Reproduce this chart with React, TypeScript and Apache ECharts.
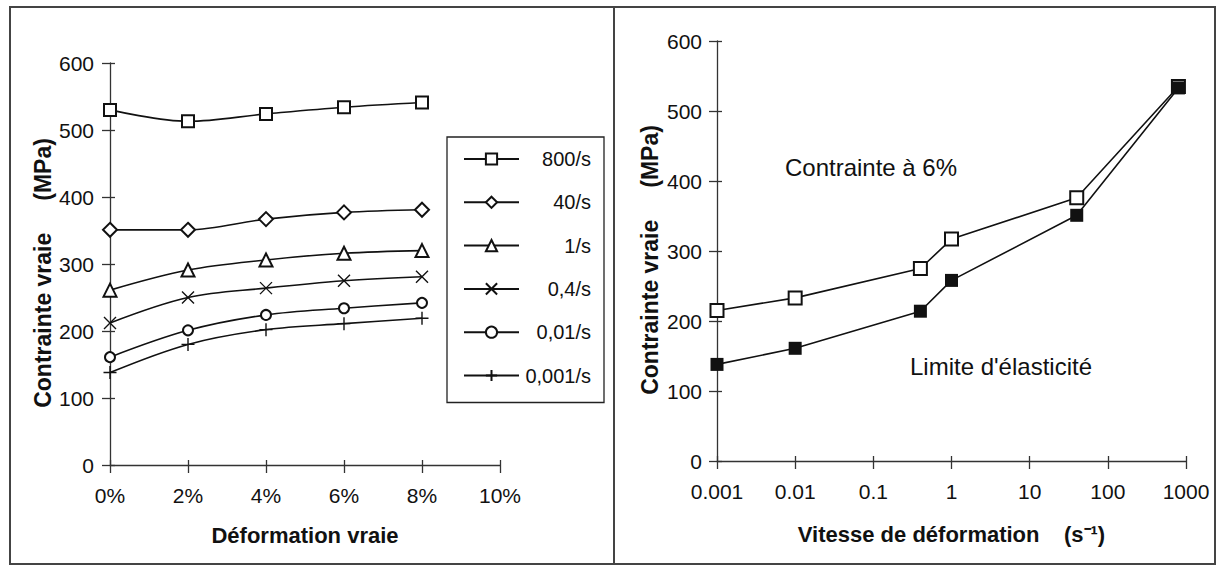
import React, { useEffect, useRef } from "react";
import * as echarts from "echarts";

// ---- Left chart data (true stress vs true strain) ----
const strainPct = [0, 2, 4, 6, 8];
const rateNames = ["800/s", "40/s", "1/s", "0,4/s", "0,01/s", "0,001/s"];
const s800 = [530, 513, 524, 534, 541];
const s40 = [351, 351, 367, 377, 381];
const s1 = [261, 291, 306, 316, 320];
const s04 = [212, 250, 264, 275, 281];
const s001 = [161, 201, 224, 234, 242];
const s0001 = [138, 180, 202, 211, 219];

// ---- Right chart data (stress vs strain rate) ----
const rates = [0.001, 0.01, 0.4, 1, 40, 800];
const stressAt6 = [215, 233, 275, 317, 376, 535];
const yieldStress = [138, 161, 214, 258, 351, 533];

const leftYTicks = { min: 0, max: 600, interval: 100 };
const leftXTicks = { min: 0, max: 10, interval: 2 };

const FONT = "'Liberation Sans', Arial, sans-serif";
const INK = "#111";

const X_SYM = "path://M0,0L10,10M10,0L0,10";
const PLUS_SYM = "path://M5,0L5,10M0,5L10,5";

export default function App() {
  const ref = useRef<HTMLDivElement>(null);

  useEffect(() => {
    if (!ref.current) return;
    const chart = echarts.init(ref.current, null, { renderer: "svg" });

    const leftSeriesDefs = [
      { name: rateNames[0], data: s800, symbol: "emptyRect", size: 12 },
      { name: rateNames[1], data: s40, symbol: "emptyDiamond", size: 14 },
      { name: rateNames[2], data: s1, symbol: "emptyTriangle", size: 13 },
      { name: rateNames[3], data: s04, symbol: X_SYM, size: 12 },
      { name: rateNames[4], data: s001, symbol: "emptyCircle", size: 10 },
      { name: rateNames[5], data: s0001, symbol: PLUS_SYM, size: 13 },
    ];

    const leftSeries = leftSeriesDefs.map((d) => ({
      type: "line",
      name: d.name,
      xAxisIndex: 0,
      yAxisIndex: 0,
      smooth: 0.35,
      symbol: d.symbol,
      symbolSize: d.size,
      data: strainPct.map((x, i) => [x, d.data[i]]),
      lineStyle: { color: INK, width: 1.6 },
      itemStyle: { color: INK, borderColor: INK, borderWidth: 1.4 },
      emphasis: { disabled: true },
    }));

    const rightSeries = [
      {
        type: "line",
        name: "Contrainte à 6%",
        xAxisIndex: 2,
        yAxisIndex: 2,
        symbol: "emptyRect",
        symbolSize: 13,
        data: rates.map((r, i) => [r, stressAt6[i]]),
        lineStyle: { color: INK, width: 1.6 },
        itemStyle: { color: INK, borderColor: INK, borderWidth: 1.4 },
        emphasis: { disabled: true },
      },
      {
        type: "line",
        name: "Limite d'élasticité",
        xAxisIndex: 2,
        yAxisIndex: 2,
        symbol: "rect",
        symbolSize: 13,
        data: rates.map((r, i) => [r, yieldStress[i]]),
        lineStyle: { color: INK, width: 1.6 },
        itemStyle: { color: INK },
        emphasis: { disabled: true },
      },
    ];

    const axisLine = { show: true, lineStyle: { color: "#333", width: 1.3 } };
    const tickOut = { show: true, length: 8, lineStyle: { color: "#333", width: 1.3 } };
    const tickIn = { show: true, inside: true, length: 5, lineStyle: { color: "#333", width: 1.3 } };
    const labelStyle = { color: INK, fontSize: 21, fontFamily: FONT };
    const nameStyle = { color: INK, fontSize: 22, fontWeight: "bold", fontFamily: FONT };
    const yNameStyle = { ...nameStyle, fontSize: 23, padding: [0, 18, 0, 0] };

    const logFmt = (v: number) => {
      const e = Math.round(Math.log10(v));
      return e < 0 ? Math.pow(10, e).toFixed(-e) : String(Math.pow(10, e));
    };

    const helperAxis = { axisLine: { show: false }, axisTick: tickIn, axisLabel: { show: false }, splitLine: { show: false } };

    chart.setOption({
      animation: false,
      backgroundColor: "#fff",
      grid: [
        { left: 110, top: 63, width: 390, height: 402 },
        { left: 717, top: 41, width: 469, height: 420 },
      ],
      legend: {
        data: rateNames,
        orient: "vertical",
        left: 447,
        top: 137,
        padding: [12, 13, 17, 16],
        itemGap: 23.3,
        itemWidth: 55,
        itemHeight: 14,
        borderColor: "#222",
        borderWidth: 1.3,
        selectedMode: false,
        formatter: (name: string) => `{r|${name}}`,
        textStyle: {
          color: INK,
          fontFamily: FONT,
          fontSize: 20,
          rich: { r: { width: 67, align: "right", fontSize: 20, lineHeight: 20, fontFamily: FONT, color: INK } },
        },
      },
      xAxis: [
        {
          type: "value",
          gridIndex: 0,
          position: "bottom",
          ...leftXTicks,
          name: "Déformation vraie",
          nameLocation: "middle",
          nameGap: 59,
          nameTextStyle: nameStyle,
          axisLine,
          axisTick: tickOut,
          axisLabel: { ...labelStyle, margin: 20, formatter: (v: number) => `${v}%` },
          splitLine: { show: false },
        },
        { type: "value", gridIndex: 0, position: "bottom", ...leftXTicks, ...helperAxis },
        {
          type: "log",
          gridIndex: 1,
          position: "bottom",
          logBase: 10,
          min: 0.001,
          max: 1000,
          name: "Vitesse de déformation    (s⁻¹)",
          nameLocation: "middle",
          nameGap: 62,
          nameTextStyle: nameStyle,
          axisLine,
          axisTick: tickOut,
          axisLabel: { ...labelStyle, margin: 20, formatter: logFmt },
          splitLine: { show: false },
          minorTick: { show: false },
        },
        { type: "log", gridIndex: 1, position: "bottom", logBase: 10, min: 0.001, max: 1000, ...helperAxis },
      ],
      yAxis: [
        {
          type: "value",
          gridIndex: 0,
          position: "left",
          ...leftYTicks,
          name: "Contrainte vraie     (MPa)",
          nameLocation: "middle",
          nameGap: 56,
          nameTextStyle: yNameStyle,
          axisLine,
          axisTick: tickOut,
          axisLabel: { ...labelStyle, margin: 16 },
          splitLine: { show: false },
        },
        { type: "value", gridIndex: 0, position: "left", ...leftYTicks, ...helperAxis },
        {
          type: "value",
          gridIndex: 1,
          position: "left",
          ...leftYTicks,
          name: "Contrainte vraie     (MPa)",
          nameLocation: "middle",
          nameGap: 56,
          nameTextStyle: yNameStyle,
          axisLine,
          axisTick: tickOut,
          axisLabel: { ...labelStyle, margin: 15 },
          splitLine: { show: false },
        },
        { type: "value", gridIndex: 1, position: "left", ...leftYTicks, ...helperAxis },
      ],
      graphic: [
        { type: "rect", shape: { x: 10, y: 7, width: 604, height: 557 }, style: { fill: "none", stroke: "#444", lineWidth: 2 }, silent: true },
        { type: "rect", shape: { x: 614, y: 7, width: 601, height: 557 }, style: { fill: "none", stroke: "#444", lineWidth: 2 }, silent: true },
        { type: "text", x: 871, y: 167, style: { text: "Contrainte à 6%", fontSize: 24, fontFamily: FONT, fill: INK, align: "center", verticalAlign: "middle" }, silent: true },
        { type: "text", x: 1001, y: 366, style: { text: "Limite d'élasticité", fontSize: 24, fontFamily: FONT, fill: INK, align: "center", verticalAlign: "middle" }, silent: true },
      ],
      series: [...leftSeries, ...rightSeries],
    });

    return () => chart.dispose();
  }, []);

  return (
    <div
      ref={ref}
      style={{ position: "fixed", left: 0, top: 0, width: 1220, height: 568, background: "#fff" }}
    />
  );
}
